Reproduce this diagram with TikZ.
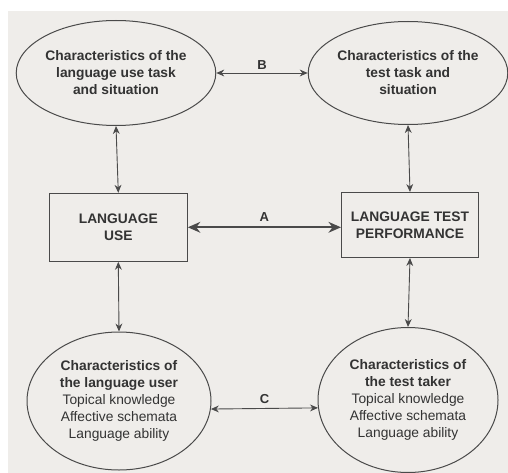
\documentclass[tikz,border=0pt]{standalone}
\usepackage{fontspec}
\setmainfont{Liberation Sans}
\usetikzlibrary{arrows.meta,shapes.geometric,positioning}
\definecolor{cink}{HTML}{333333}
\definecolor{cline}{HTML}{4A4A4A}
\definecolor{cpaper}{HTML}{EFEDEA}

\begin{document}
\begin{tikzpicture}[x=1pt, y=-1pt,
    ell/.style={ellipse, draw=cline, line width=1pt, inner sep=0pt, align=center,
      text=cink, font=\fontsize{13.8}{17}\selectfont},
    box/.style={rectangle, draw=cline, line width=1pt, inner sep=0pt, align=center,
      text=cink, font=\fontsize{13.8}{17}\selectfont\bfseries},
    lab/.style={font=\fontsize{13}{15}\selectfont\bfseries, text=cink, inner sep=1pt},
    link/.style={{Stealth[length=2.8mm, width=2.4mm]}-{Stealth[length=2.8mm, width=2.4mm]}, cline, line width=0.9pt},
    main/.style={{Stealth[length=4.4mm, width=3.8mm]}-{Stealth[length=4.4mm, width=3.8mm]}, cline, line width=2pt}]
  \useasboundingbox (0,0) rectangle (508,473);
  \fill[white] (0,0) rectangle (508,473);
  \fill[cpaper] (8,11) rectangle (508,473);

  % top row: task characteristics
  \node[ell, minimum width=190, minimum height=105] (usetask) at (116,73)
       {\textbf{Characteristics of the}\\\textbf{language use task}\\\textbf{and situation}};
  \node[ell, minimum width=187, minimum height=103] (testtask) at (408,73)
       {\textbf{Characteristics of the}\\\textbf{test task and}\\\textbf{situation}};

  % middle row
  \node[box, minimum width=138, minimum height=68] (use) at (118.3,227.3) {LANGUAGE\\USE};
  \node[box, minimum width=137, minimum height=65] (perf) at (410,225) {LANGUAGE TEST\\PERFORMANCE};

  % bottom row: person characteristics
  \node[ell, minimum width=184, minimum height=138] (user) at (119,401)
       {\textbf{Characteristics of}\\\textbf{the language user}\\Topical knowledge\\Affective schemata\\Language ability};
  \node[ell, minimum width=180, minimum height=145] (taker) at (408,400)
       {\textbf{Characteristics of}\\\textbf{the test taker}\\Topical knowledge\\Affective schemata\\Language ability};

  \draw[link] (usetask.east) -- node[lab, above=2pt] (labB) {B} (testtask.west);
  \draw[main] (use.east) -- node[lab, above=4pt] (labA) {A} (use.east -| perf.west);
  \draw[link] (user.-5.6) -- node[lab, above=3pt] (labC) {C} (taker.185.7);

  \draw[link] (usetask.south) -- (use.north);
  \draw[link] (use.south) -- (user.north);
  \draw[link] (testtask.south) -- (perf.north);
  \draw[link] (perf.south) -- (taker.north);
\end{tikzpicture}
\end{document}
